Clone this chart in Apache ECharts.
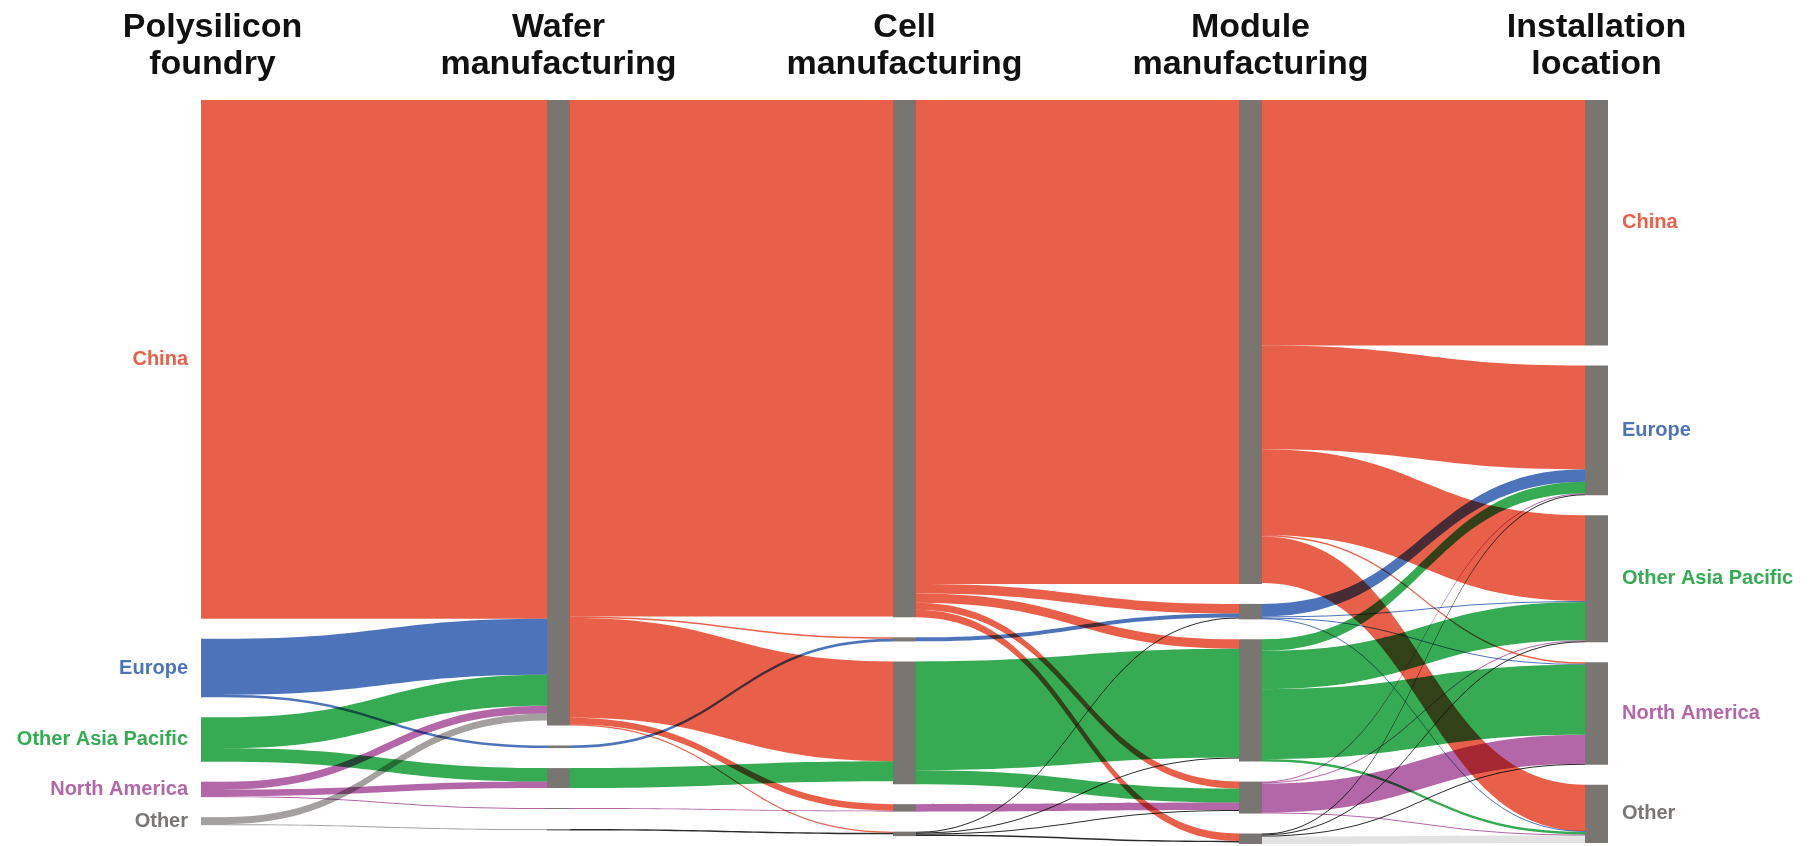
<!DOCTYPE html>
<html>
<head>
<meta charset="utf-8">
<title>Solar PV supply chain flows</title>
<script src="https://cdn.jsdelivr.net/npm/echarts@6/dist/echarts.min.js"></script>
<style>
html, body { margin: 0; padding: 0; background: #fff; }
#chart { width: 1816px; height: 846px; }
</style>
</head>
<body>
<div id="chart"></div>
<script>
var stages = ['Polysilicon\nfoundry', 'Wafer\nmanufacturing', 'Cell\nmanufacturing', 'Module\nmanufacturing', 'Installation\nlocation'];
var regions = ['China', 'Europe', 'Other Asia Pacific', 'North America', 'Other'];

// flows between neighbouring stages: rows = from region, columns = to region (same order as regions)
var polyToWafer = [
  [520, 0, 0, 0, 0],
  [56, 2.6, 0, 0, 0],
  [31, 0, 13.5, 0, 0],
  [8, 0, 6.5, 1, 0],
  [7, 0, 0, 0, 1]
];
var waferToCell = [
  [517.7, 1.5, 100, 6.5, 1.2],
  [0, 2.6, 0, 0, 0],
  [0, 0, 20, 0, 0],
  [0, 0, 0, 1, 0],
  [0, 0, 0, 0, 1.5]
];
var cellToModule = [
  [485, 9.5, 9.5, 7, 7.5],
  [0, 4, 0, 0, 0],
  [0, 0, 109, 14, 0],
  [0, 0, 0, 7.5, 0],
  [0, 1, 1, 1, 1.5]
];
var moduleToInstall = [
  [246, 104, 86, 1.5, 46.5],
  [0, 12.5, 1, 1, 1],
  [0, 11.5, 38.5, 70, 2.5],
  [0, 1, 1, 29, 1],
  [0, 1, 1, 1, 7.5]
];
var flows = [polyToWafer, waferToCell, cellToModule, moduleToInstall];

var regionColors = {
  'China': '#E9604A',
  'Europe': '#4D74BA',
  'Other Asia Pacific': '#37AB53',
  'North America': '#B467A8',
  'Other': '#A3A09F'
};
var labelColors = {
  'China': '#E9604A',
  'Europe': '#4D74BA',
  'Other Asia Pacific': '#37AB53',
  'North America': '#B467A8',
  'Other': '#7A7674'
};
var nodeGrey = '#797571';

function linkColor(stage, region, value) {
  if (region === 'Other' && stage > 0) {
    return value > 5 ? '#E3E3E3' : '#2A2A2A';
  }
  return regionColors[region];
}

var nodes = [];
stages.forEach(function (stage, s) {
  regions.forEach(function (region) {
    nodes.push({
      name: s + '|' + region,
      itemStyle: { color: s === 0 ? regionColors[region] : nodeGrey },
      label: { color: labelColors[region] }
    });
  });
});

var links = [];
flows.forEach(function (matrix, s) {
  matrix.forEach(function (row, i) {
    row.forEach(function (v, j) {
      if (!v) return;
      links.push({
        source: s + '|' + regions[i],
        target: (s + 1) + '|' + regions[j],
        value: v,
        lineStyle: { color: linkColor(s, regions[i], v) }
      });
    });
  });
});

var chartLeft = 201, chartRight = 208, nodeW = 23;
var step = (1816 - chartLeft - chartRight - nodeW) / (stages.length - 1);

var chart = echarts.init(document.getElementById('chart'));
chart.setOption({
  backgroundColor: '#fff',
  animation: false,
  title: stages.map(function (s, i) {
    return {
      text: s,
      left: chartLeft + nodeW / 2 + i * step,
      top: 9,
      textAlign: 'center',
      padding: 0,
      textStyle: {
        fontFamily: 'Liberation Sans',
        fontWeight: 'bold',
        fontSize: 34,
        lineHeight: 37,
        color: '#111'
      }
    };
  }),
  series: [{
    type: 'sankey',
    left: chartLeft,
    right: chartRight,
    top: 100,
    bottom: 2,
    nodeWidth: nodeW,
    nodeGap: 20,
    layoutIterations: 0,
    draggable: false,
    blendMode: 'multiply',
    emphasis: { disabled: true },
    itemStyle: { borderWidth: 0 },
    lineStyle: { opacity: 1, curveness: 0.5 },
    label: {
      fontFamily: 'Liberation Sans',
      fontWeight: 'bold',
      fontSize: 20,
      formatter: function (p) { return p.name.split('|')[1]; }
    },
    levels: [
      { depth: 0, label: { show: true, position: 'left', distance: 13 } },
      { depth: 1, label: { show: false } },
      { depth: 2, label: { show: false } },
      { depth: 3, label: { show: false } },
      { depth: 4, label: { show: true, position: 'right', distance: 14 } }
    ],
    data: nodes,
    links: links
  }]
});
</script>
</body>
</html>
